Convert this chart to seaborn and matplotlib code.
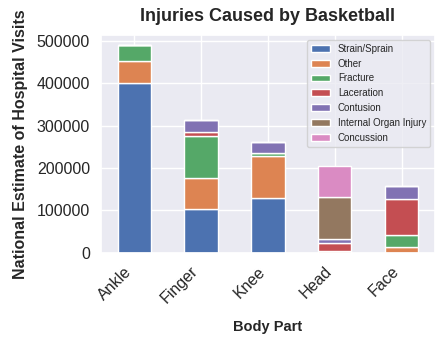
import matplotlib
matplotlib.use("Agg")
import matplotlib.pyplot as plt
import matplotlib.patches as mpatches
import seaborn as sns
import pandas as pd

body_parts = ["Ankle", "Finger", "Knee", "Head", "Face"]
injuries = ["Strain/Sprain", "Other", "Fracture", "Laceration", "Contusion",
            "Internal Organ Injury", "Concussion"]
strain = [402000, 103000, 130000, 0, 0]
other = [52000, 74000, 97500, 4000, 13000]
fracture = [36000, 98000, 7000, 0, 28000]
laceration = [0, 10000, 0, 18000, 86000]
contusion = [0, 28000, 28000, 11000, 31000]
internal = [0, 0, 0, 99000, 0]
concussion = [0, 0, 0, 72000, 0]

series = [strain, other, fracture, laceration, contusion, internal, concussion]
rows = []
for inj, vals in zip(injuries, series):
    for bp, v in zip(body_parts, vals):
        rows.append({"Body Part": bp, "Injury": inj, "Visits": v})
df = pd.DataFrame(rows)
df["Body Part"] = pd.Categorical(df["Body Part"], categories=body_parts, ordered=True)
df["x"] = df["Body Part"].cat.codes

sns.set_theme(style="darkgrid")
plt.rcParams["font.family"] = ["Liberation Sans", "DejaVu Sans"]

colors = sns.color_palette("deep", 7)
pal = dict(zip(injuries, colors))

fig = plt.figure(figsize=(4.42, 3.39), dpi=100)
ax = fig.add_axes([0.2285, 0.2546, 0.7555, 0.6424])

sns.histplot(data=df, x="x", weights="Visits", hue="Injury",
             hue_order=injuries[::-1], palette=pal, multiple="stack",
             discrete=True, shrink=0.5, edgecolor="white", linewidth=1,
             alpha=1, ax=ax, legend=False)

ax.set_xlim(-0.5, len(body_parts) - 0.5)
ax.set_ylim(0, 514500)
ax.set_xticks(range(len(body_parts)))
ax.set_xticklabels(body_parts, rotation=45, ha="right", rotation_mode="default",
                   fontsize=11.5)
ax.set_yticks([0, 100000, 200000, 300000, 400000, 500000])
ax.set_yticklabels(["0", "100000", "200000", "300000", "400000", "500000"], fontsize=11.5)
ax.tick_params(axis="both", pad=2)

ax.set_xlabel("Body Part", fontsize=10.5, fontweight="bold", labelpad=10)
ax.set_ylabel("National Estimate of Hospital Visits", fontsize=11.5,
              fontweight="bold", labelpad=6)
ax.set_title("Injuries Caused by Basketball", fontsize=13, fontweight="bold", pad=10)

handles = [mpatches.Patch(facecolor=pal[i], edgecolor="white", label=i) for i in injuries]
ax.legend(handles=handles, loc="upper right", fontsize=7, frameon=True)

fig.savefig("out.png", dpi=100)
